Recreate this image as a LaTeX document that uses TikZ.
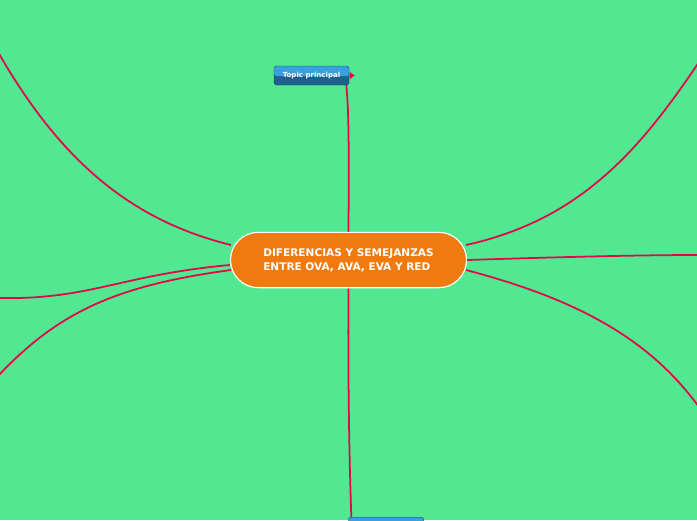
\documentclass[tikz,border=0pt]{standalone}
\usepackage{fontspec}
\setmainfont{DejaVu Sans}
\usetikzlibrary{backgrounds}
\definecolor{fondo}{HTML}{51E891}
\definecolor{rama}{HTML}{E2064A}
\definecolor{naranja}{HTML}{EE7A10}
\definecolor{azulclaro}{HTML}{3A9FDD}
\definecolor{azuloscuro}{HTML}{1F5F8C}
\tikzset{
  conector/.style={draw=rama, line width=1.5pt},
  central/.style={rectangle, rounded corners=0.83cm, fill=naranja, draw=white, line width=1pt,
    minimum width=7.08cm, minimum height=1.66cm, text=white, align=left,
    font=\fontsize{9}{12}\selectfont\bfseries},
  topico/.style={rectangle, rounded corners=1.5pt, fill=azuloscuro, draw=azuloscuro!80!black,
    line width=0.3pt, minimum width=2.25cm, minimum height=0.57cm, text=white,
    font=\fontsize{6}{7}\selectfont\bfseries,
    path picture={\fill[azulclaro] (path picture bounding box.north west) rectangle
      ([yshift=-0.3cm]path picture bounding box.north east);}}
}
\begin{document}
\begin{tikzpicture}[x=0.03cm, y=-0.03cm]
  \useasboundingbox (0,0) rectangle (697,520);
  \clip (0,0) rectangle (697,520);

  % Nodo central
  \node[central] (centro) at (348.5,260) {DIFERENCIAS Y SEMEJANZAS\\ENTRE OVA, AVA, EVA Y RED};

  % Topicos
  \node[topico] (topico) at (311.5,75.5) {Topic principal};
  \node[topico, anchor=north] (inferior) at (386,517) {};

  % Extremos libres
  \coordinate (a) at (-2,52);
  \coordinate (b) at (-2,298);
  \coordinate (c) at (-2,376);
  \coordinate (d) at (699,62);
  \coordinate (e) at (699,255);
  \coordinate (f) at (699,407);

  % Ramas
  \begin{pgfonlayer}{background}
  \fill[fondo] (0,0) rectangle (697,520);
  \draw[conector] (centro.north) .. controls (349,150) and (349,110) .. (346,82);
  \fill[rama] (topico.east) ++(0.5,-3.5) -- ++(5,3.5) -- ++(-5,3.5) -- cycle;
  \draw[conector] (centro.south) .. controls (348,380) and (349,450) .. ([xshift=0.09cm]inferior.north west);
  \draw[conector] (231,245) .. controls (130,220) and (60,160) .. (a);
  \draw[conector] (230,265) .. controls (120,275) and (90,300) .. (b);
  \draw[conector] (231,270) .. controls (120,285) and (60,310) .. (c);
  \draw[conector] (466,245) .. controls (580,220) and (640,150) .. (d);
  \draw[conector] (467,260) .. controls (560,257) and (640,255) .. (e);
  \draw[conector] (466,270) .. controls (580,300) and (650,340) .. (f);
  \end{pgfonlayer}
\end{tikzpicture}
\end{document}
